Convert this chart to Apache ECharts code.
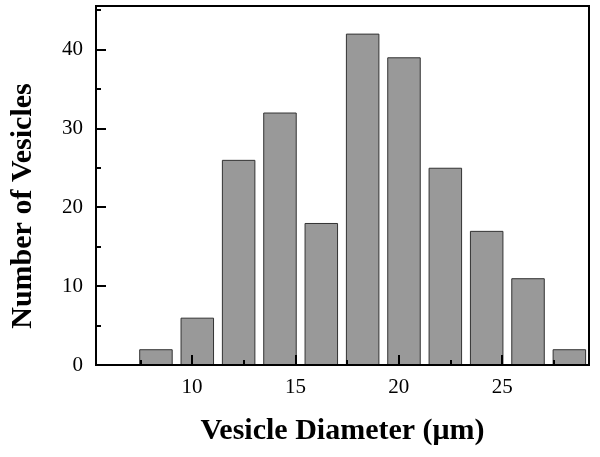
<!DOCTYPE html>
<html>
<head>
<meta charset="utf-8">
<script src="https://cdn.jsdelivr.net/npm/echarts@6/dist/echarts.min.js"></script>
<style>html,body{margin:0;padding:0;background:#fff}#c{width:600px;height:457px}</style>
</head>
<body>
<div id="c"></div>
<script>
var binCenters = [8.25, 10.25, 12.25, 14.25, 16.25, 18.25, 20.25, 22.25, 24.25, 26.25, 28.25];
var counts = [2, 6, 26, 32, 18, 42, 39, 25, 17, 11, 2];
var xMajorTicks = [10, 15, 20, 25];
var xMinorTicks = [7.5, 12.5, 17.5, 22.5, 27.5];
var yMajorTicks = [0, 10, 20, 30, 40];
var yMinorTicks = [5, 15, 25, 35, 45];
var xRange = [5.35, 29.2];
var yRange = [0, 45.5];

var font = 'Liberation Serif, Times New Roman, serif';
var chart = echarts.init(document.getElementById('c'), null, {renderer: 'canvas'});
var data = binCenters.map(function (c, i) { return [c, counts[i]]; });

chart.setOption({
  animation: false,
  grid: {left: 96, right: 11, top: 6, bottom: 92, show: true, borderColor: '#000', borderWidth: 2, backgroundColor: 'transparent'},
  xAxis: [{
    type: 'value', min: xRange[0], max: xRange[1], position: 'bottom', z: 10,
    name: 'Vesicle Diameter (\u03bcm)', nameLocation: 'middle', nameGap: 51,
    nameTextStyle: {fontFamily: font, fontSize: 30, fontWeight: 'bold', color: '#000'},
    axisLine: {show: true, onZero: false, lineStyle: {color: '#000', width: 2}},
    axisTick: {show: true, inside: true, length: 10, customValues: xMajorTicks, lineStyle: {color: '#000', width: 2}},
    axisLabel: {show: true, customValues: xMajorTicks, margin: 12, fontFamily: font, fontSize: 21, color: '#000'},
    splitLine: {show: false}
  }, {
    type: 'value', min: xRange[0], max: xRange[1], position: 'bottom', z: 10,
    axisLine: {show: false, onZero: false},
    axisTick: {show: true, inside: true, length: 5, customValues: xMinorTicks, lineStyle: {color: '#000', width: 2}},
    axisLabel: {show: false},
    splitLine: {show: false}
  }],
  yAxis: [{
    type: 'value', min: yRange[0], max: yRange[1], position: 'left', z: 10,
    axisLine: {show: true, onZero: false, lineStyle: {color: '#000', width: 2}},
    axisTick: {show: true, inside: true, length: 10, customValues: yMajorTicks, lineStyle: {color: '#000', width: 2}},
    axisLabel: {show: true, customValues: yMajorTicks, margin: 13, fontFamily: font, fontSize: 21, color: '#000'},
    splitLine: {show: false}
  }, {
    type: 'value', min: yRange[0], max: yRange[1], position: 'left', z: 10,
    axisLine: {show: false, onZero: false},
    axisTick: {show: true, inside: true, length: 5, customValues: yMinorTicks, lineStyle: {color: '#000', width: 2}},
    axisLabel: {show: false},
    splitLine: {show: false}
  }],
  graphic: [{
    type: 'text', x: 23, y: 206, rotation: Math.PI / 2,
    style: {text: 'Number of Vesicles', fontFamily: font, fontSize: 30, fontWeight: 'bold', fill: '#000', align: 'center', verticalAlign: 'middle'}
  }],
  series: [{
    type: 'bar', xAxisIndex: 0, yAxisIndex: 0, data: data, barWidth: 33.5,
    itemStyle: {color: '#999999', borderColor: '#333', borderWidth: 1}
  }]
});
</script>
</body>
</html>
